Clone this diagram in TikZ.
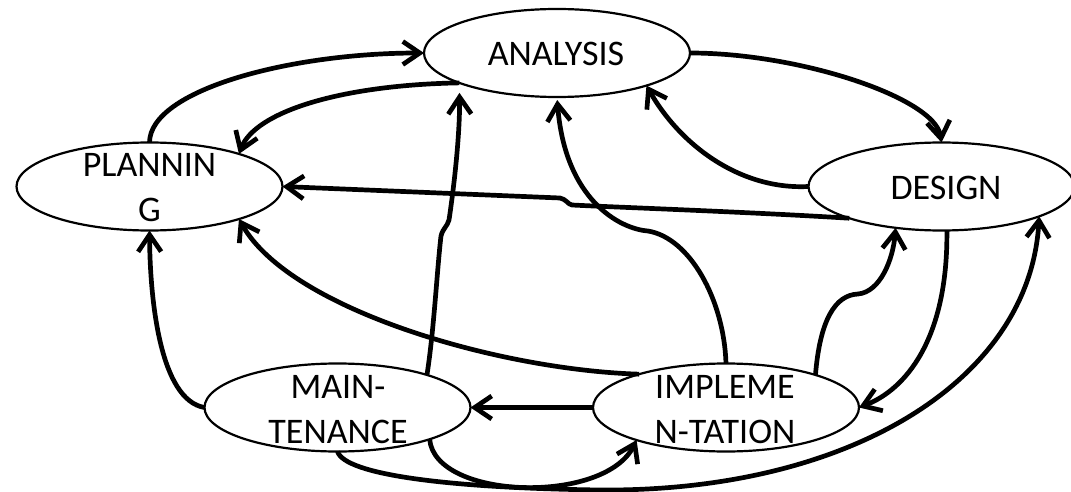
\documentclass[tikz,border=0pt]{standalone}
\usepackage{fontspec}
\setmainfont{Carlito}
\usetikzlibrary{shapes.geometric,arrows.meta}
\begin{document}
\begin{tikzpicture}[x=1pt,y=-1pt,
  ell/.style={draw, ellipse, line width=2.2pt, minimum width=266pt, minimum height=88pt, inner sep=0pt, outer sep=0pt},
  lbl/.style={align=center, inner sep=0pt, font=\fontsize{36}{45}\selectfont},
  conn/.style={line width=4.7pt, -{Straight Barb[length=17pt,width=23pt]}}
]
\fill[white] (0,0) rectangle (1071,492);
\useasboundingbox (0,0) rectangle (1071,492);

% ellipses
\node[ell] (ana) at (557,53) {};
\node[ell] (plan) at (149.5,186.5) {};
\node[ell] (des) at (941.5,186.5) {};
\node[ell] (mai) at (337.5,407.5) {};
\node[ell] (imp) at (726,407.5) {};

% labels
\node[lbl] (anaT) at (556,54) {ANALYSIS};
\node[lbl] (planT) at (149.5,188) {PLANNIN\\G};
\node[lbl] (desT) at (946,188.4) {DESIGN};
\node[lbl] (maiT) at (338,409.2) {MAIN-\\TENANCE};
\node[lbl] (impT) at (725,409.7) {IMPLEME\\N-TATION};

% connectors
\draw[conn] (plan.north) .. controls (150,90) and (290,53) .. (ana.west);
\draw[conn] (ana.197.6) .. controls (340,85) and (255,112) .. (plan.20.4);
\draw[conn] (ana.east) .. controls (800,53) and (935,98) .. (des.north);
\draw[conn] (des.west) .. controls (740,190) and (680,145) .. (ana.340.8);
\draw[conn] (des.199.4) .. controls (750,212) and (610,207) .. (572,205) .. controls (568,204.5) and (566,199) .. (560,198) -- (plan.east);
\draw[conn, shorten >=10pt] (mai.20.3) .. controls (434,330) and (437,270) .. (441,236) .. controls (443,228) and (447,227) .. (449,220) .. controls (455,180) and (460,130) .. (ana.197.6);
\draw[conn, shorten >=3pt] (imp.north) .. controls (724,300) and (690,238) .. (648,231) .. controls (620,229) and (565,200) .. (ana.south);
\draw[conn] (imp.159.3) .. controls (500,370) and (290,310) .. (plan.340.95);
\draw[conn] (mai.west) .. controls (160,400) and (150,300) .. (plan.south);
\draw[conn] (imp.west) -- (mai.east);
\draw[conn] (imp.20) .. controls (820,320) and (835,295) .. (858,294) .. controls (880,292) and (893,260) .. (des.222.3);
\draw[conn] (des.277) .. controls (948,340) and (905,390) .. (imp.east);
\draw[conn] (mai.south) .. controls (345,475) and (450,488) .. (600,490) .. controls (850,492) and (1030,380) .. (des.343.8);
\draw[conn] (mai.341.3) .. controls (435,500) and (605,505) .. (imp.200.2);
\end{tikzpicture}
\end{document}
